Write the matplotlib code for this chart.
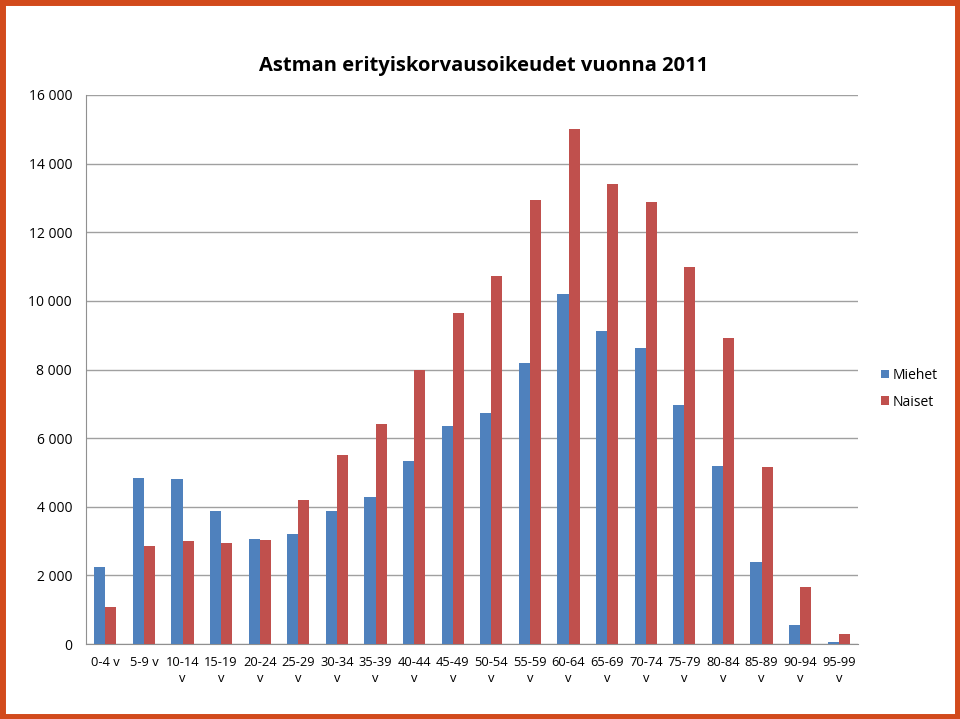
import matplotlib.pyplot as plt
import numpy as np
from matplotlib.patches import Rectangle

plt.rcParams['font.family'] = ['Open Sans', 'DejaVu Sans']

age_groups = ['0-4 v', '5-9 v', '10-14\nv', '15-19\nv', '20-24\nv', '25-29\nv', '30-34\nv',
              '35-39\nv', '40-44\nv', '45-49\nv', '50-54\nv', '55-59\nv', '60-64\nv', '65-69\nv',
              '70-74\nv', '75-79\nv', '80-84\nv', '85-89\nv', '90-94\nv', '95-99\nv']
miehet = [2245, 4840, 4810, 3880, 3060, 3210, 3880, 4290, 5340, 6360,
          6730, 8190, 10200, 9125, 8630, 6970, 5190, 2390, 550, 60]
naiset = [1080, 2860, 3000, 2945, 3030, 4200, 5510, 6410, 7990, 9650,
          10730, 12940, 15010, 13410, 12890, 10990, 8920, 5160, 1660, 290]
y_ticks = [0, 2000, 4000, 6000, 8000, 10000, 12000, 14000, 16000]

fig = plt.figure(figsize=(9.6, 7.19), dpi=100)
ax = fig.add_axes([86/960, 1 - 644/719, 772/960, 549/719])

x = np.arange(len(age_groups))
width = 0.29
ax.bar(x - width/2, miehet, width, color='#4F81BD', label='Miehet', zorder=3)
ax.bar(x + width/2, naiset, width, color='#C0504D', label='Naiset', zorder=3)

ax.set_xlim(-0.5, len(age_groups) - 0.5)
ax.set_ylim(0, 16000)
ax.set_yticks(y_ticks)
ax.set_yticklabels([f'{v:,}'.replace(',', ' ') for v in y_ticks])
ax.set_xticks(x)
ax.set_xticklabels(age_groups, linespacing=1.25, va='top')
ax.tick_params(axis='both', length=0, labelsize=10, colors='black')
ax.tick_params(axis='x', pad=9, labelsize=9.3)
ax.tick_params(axis='y', pad=10)
ax.grid(True, axis='y', color='#A0A0A0', linewidth=1, zorder=0)

for side in ['top', 'right']:
    ax.spines[side].set_visible(False)
for side in ['left', 'bottom']:
    ax.spines[side].set_color('#909090')

ax.legend(loc='center left', bbox_to_anchor=(1.013, 0.465), frameon=False, fontsize=10,
          handlelength=0.6, handleheight=0.6, handletextpad=0.3, labelspacing=0.85)

fig.text(484/960, 1 - 66/719, 'Astman erityiskorvausoikeudet vuonna 2011',
         ha='center', va='center', fontsize=14.5, fontweight='bold')

# orange frame around the slide
fig.patches.append(Rectangle((0.002, 0.003), 0.996, 0.994, transform=fig.transFigure,
                             fill=False, edgecolor='#D24A1C', linewidth=5))

fig.savefig('out.png', dpi=100)
